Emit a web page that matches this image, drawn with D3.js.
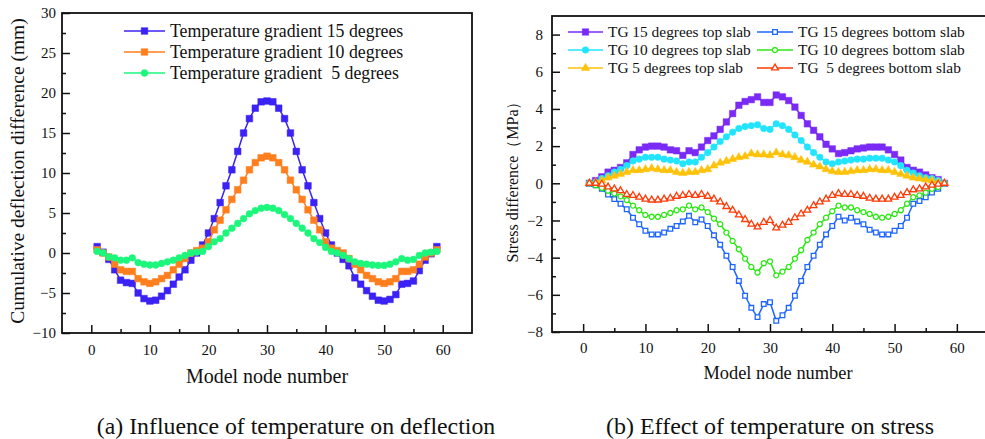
<!DOCTYPE html>
<html>
<head>
<meta charset="utf-8">
<script src="https://cdn.jsdelivr.net/npm/d3@7"></script>
<style>
  body { margin: 0; background: #fff; }
  svg text { font-family: "Liberation Serif", "Times New Roman", serif; fill: #111; white-space: pre; }
</style>
</head>
<body>
<svg id="fig" width="985" height="439"></svg>
<script>
// ---- data (a): cumulative deflection difference, nodes 1..59
const nodesA = d3.range(1, 60);
const tg15 = [0.8, 0.1, -0.8, -2.1, -3.4, -3.7, -3.8, -5.0, -5.7, -6.0, -5.9, -5.4, -4.7, -3.9, -3.0, -2.1, -0.9, 0.0, 1.0, 2.5,
  4.3, 6.3, 8.4, 10.4, 12.7, 15.0, 16.8, 18.1, 18.9, 19.0, 18.9, 18.1, 16.8, 15.0, 12.7, 10.4, 8.4, 6.3, 4.3, 2.5,
  1.0, 0.0, -0.8, -1.6, -3.1, -3.9, -4.7, -5.4, -5.9, -6.0, -5.8, -5.2, -3.9, -3.8, -3.5, -2.2, -0.9, -0.1, 0.8];
const tg10 = [0.4, 0.0, -0.5, -1.4, -2.1, -2.3, -2.3, -3.2, -3.6, -3.8, -3.6, -3.2, -2.8, -2.1, -1.4, -0.7, 0.0, 0.3, 0.6, 1.4,
  2.9, 4.1, 5.4, 6.7, 7.9, 9.1, 10.4, 11.3, 11.9, 12.1, 11.9, 11.3, 10.4, 9.1, 7.9, 6.7, 5.4, 4.1, 2.9, 1.4,
  0.6, 0.3, 0.0, -0.7, -1.4, -2.1, -2.8, -3.2, -3.6, -3.8, -3.6, -3.2, -2.3, -2.3, -2.1, -1.4, -0.5, 0.0, 0.4];
const tg5 = [0.2, 0.0, -0.5, -0.6, -0.9, -0.9, -0.6, -1.2, -1.4, -1.5, -1.5, -1.3, -1.1, -0.9, -0.6, -0.3, 0.0, 0.1, 0.2, 0.8,
  1.4, 1.8, 2.5, 3.1, 3.7, 4.3, 4.9, 5.3, 5.6, 5.7, 5.6, 5.3, 4.8, 4.3, 3.7, 3.1, 2.5, 1.8, 1.3, 0.7,
  0.2, 0.0, -0.3, -0.7, -1.1, -1.3, -1.4, -1.5, -1.55, -1.55, -1.4, -1.1, -0.7, -0.9, -0.8, -0.3, 0.0, 0.1, 0.2];
const legendA = ["Temperature gradient 15 degrees", "Temperature gradient 10 degrees", "Temperature gradient  5 degrees"];

// ---- data (b): stress difference, nodes 1..58
const nodesB = d3.range(1, 59);
const top15 = [0, 0.15, 0.35, 0.6, 0.7, 0.85, 1.1, 1.55, 1.8, 1.95, 2.0, 2.0, 1.95, 1.8, 1.75, 1.5, 1.75, 1.65, 1.95, 2.3,
  2.55, 2.9, 3.3, 3.75, 4.2, 4.4, 4.5, 4.65, 4.35, 4.35, 4.75, 4.65, 4.45, 4.1, 3.65, 3.2, 2.85, 2.5, 2.1, 1.85,
  1.6, 1.65, 1.75, 1.85, 1.9, 1.95, 1.95, 1.95, 1.8, 1.55, 1.25, 0.85, 0.7, 0.6, 0.45, 0.3, 0.2, 0];
const top10 = [0, 0.05, 0.25, 0.4, 0.6, 0.75, 0.95, 1.2, 1.3, 1.4, 1.4, 1.4, 1.3, 1.25, 1.2, 1.05, 1.15, 1.15, 1.4, 1.65,
  1.95, 2.25, 2.5, 2.75, 2.95, 3.05, 3.1, 3.15, 2.95, 2.9, 3.2, 3.1, 2.9, 2.6, 2.3, 1.95, 1.65, 1.4, 1.15, 1.05,
  1.15, 1.2, 1.25, 1.3, 1.3, 1.35, 1.35, 1.35, 1.25, 1.15, 0.95, 0.7, 0.55, 0.4, 0.3, 0.25, 0.15, 0];
const top5 = [0, 0.05, 0.15, 0.3, 0.4, 0.5, 0.6, 0.7, 0.7, 0.75, 0.8, 0.75, 0.7, 0.7, 0.6, 0.55, 0.6, 0.6, 0.7, 0.75,
  0.95, 1.1, 1.2, 1.3, 1.4, 1.45, 1.6, 1.55, 1.55, 1.5, 1.65, 1.55, 1.5, 1.4, 1.25, 1.15, 1.0, 0.9, 0.75, 0.65,
  0.6, 0.6, 0.65, 0.7, 0.7, 0.75, 0.75, 0.7, 0.7, 0.6, 0.5, 0.4, 0.3, 0.25, 0.2, 0.15, 0.05, 0];
const bot15 = [0, -0.1, -0.3, -0.6, -0.85, -1.1, -1.4, -1.85, -2.2, -2.55, -2.75, -2.75, -2.65, -2.45, -2.3, -2.05, -1.75, -2.1, -1.95, -2.3,
  -2.8, -3.3, -3.9, -4.5, -5.25, -6.05, -6.7, -7.2, -6.5, -6.4, -7.4, -7.1, -6.7, -6.05, -5.25, -4.5, -3.9, -3.3, -2.75, -2.3,
  -1.8, -2.0, -1.85, -2.05, -2.2, -2.5, -2.65, -2.75, -2.75, -2.55, -2.3, -1.85, -1.1, -0.95, -0.75, -0.5, -0.3, 0];
const bot10 = [0, -0.1, -0.25, -0.4, -0.55, -0.7, -0.9, -1.2, -1.45, -1.7, -1.8, -1.8, -1.7, -1.6, -1.45, -1.4, -1.2, -1.4, -1.3, -1.55,
  -1.9, -2.2, -2.65, -3.1, -3.55, -4.05, -4.5, -4.8, -4.3, -4.2, -4.95, -4.75, -4.5, -4.05, -3.6, -3.05, -2.65, -2.2, -1.85, -1.5,
  -1.2, -1.3, -1.3, -1.45, -1.55, -1.65, -1.8, -1.85, -1.8, -1.65, -1.45, -1.1, -0.75, -0.65, -0.5, -0.3, -0.2, 0];
const bot5 = [0, 0, -0.05, -0.2, -0.3, -0.4, -0.6, -0.65, -0.75, -0.85, -0.9, -0.9, -0.85, -0.8, -0.7, -0.65, -0.6, -0.65, -0.6, -0.7,
  -0.85, -1.0, -1.25, -1.45, -1.7, -1.95, -2.2, -2.35, -2.1, -2.0, -2.4, -2.25, -2.1, -1.85, -1.65, -1.45, -1.2, -1.0, -0.85, -0.65,
  -0.55, -0.6, -0.6, -0.65, -0.7, -0.8, -0.85, -0.85, -0.85, -0.75, -0.65, -0.5, -0.35, -0.3, -0.2, -0.1, -0.05, 0];
const legendB = ["TG 15 degrees top slab", "TG 10 degrees top slab", "TG 5 degrees top slab",
  "TG 15 degrees bottom slab", "TG 10 degrees bottom slab", "TG  5 degrees bottom slab"];

const svg = d3.select("#fig");

// draws one panel: frame, ticks, labels
function makePanel(opt) {
  const x = d3.scaleLinear().domain(opt.xDomain).range(opt.xRange);
  const y = d3.scaleLinear().domain(opt.yDomain).range(opt.yRange);
  const g = svg.append("g");

  // major / minor ticks pointing inward
  g.append("g").attr("transform", "translate(0," + opt.yRange[0] + ")")
    .call(d3.axisBottom(x).tickValues(opt.xTicks).tickSize(-8).tickPadding(opt.xPad));
  g.append("g").attr("transform", "translate(0," + opt.yRange[0] + ")")
    .call(d3.axisBottom(x).tickValues(opt.xMinor).tickSize(-4).tickFormat(""));
  g.append("g").attr("transform", "translate(" + opt.xRange[0] + ",0)")
    .call(d3.axisLeft(y).tickValues(opt.yTicks).tickSize(-8).tickPadding(opt.yPad));
  g.append("g").attr("transform", "translate(" + opt.xRange[0] + ",0)")
    .call(d3.axisLeft(y).tickValues(opt.yMinor).tickSize(-4).tickFormat(""));
  g.selectAll(".domain").remove();
  g.selectAll(".tick line").attr("stroke", "#111").attr("stroke-width", 1.5);
  g.selectAll(".tick text").attr("font-family", "Liberation Serif").attr("font-size", opt.tickFont).attr("fill", "#111");

  // frame
  g.append("rect")
    .attr("x", opt.xRange[0]).attr("y", opt.yRange[1])
    .attr("width", opt.xRange[1] - opt.xRange[0]).attr("height", opt.yRange[0] - opt.yRange[1])
    .attr("fill", "none").attr("stroke", "#111").attr("stroke-width", 1.8);

  return { x, y, g };
}

function drawSeries(p, nodes, vals, s) {
  const pts = nodes.map((n, i) => [n, vals[i]]);
  p.g.append("path").datum(pts)
    .attr("d", d3.line().x(d => p.x(d[0])).y(d => p.y(d[1])))
    .attr("fill", "none").attr("stroke", s.color).attr("stroke-width", 1.5);
  p.g.append("g").selectAll("path").data(pts).join("path")
    .attr("transform", d => "translate(" + p.x(d[0]) + "," + p.y(d[1]) + ")")
    .attr("d", d3.symbol().type(s.shape).size(s.size))
    .attr("fill", s.open ? "#fff" : s.color)
    .attr("stroke", s.color).attr("stroke-width", s.open ? 1.3 : 0.5);
}

function legendRow(x0, x1, yRow, text, s, font) {
  svg.append("line").attr("x1", x0).attr("x2", x1).attr("y1", yRow).attr("y2", yRow)
    .attr("stroke", s.color).attr("stroke-width", 1.5);
  svg.append("path").attr("transform", "translate(" + (x0 + x1) / 2 + "," + yRow + ")")
    .attr("d", d3.symbol().type(s.shape).size(s.size))
    .attr("fill", s.open ? "#fff" : s.color).attr("stroke", s.color).attr("stroke-width", s.open ? 1.3 : 0.5);
  svg.append("text").attr("x", x1 + 5).attr("y", yRow).attr("dy", "0.35em")
    .attr("font-size", font).text(text);
}

// ---------- panel (a)
const pa = makePanel({
  xDomain: [-5, 65], xRange: [62, 472], yDomain: [-10, 30], yRange: [333, 13],
  xTicks: [0, 10, 20, 30, 40, 50, 60], xMinor: [5, 15, 25, 35, 45, 55],
  yTicks: [-10, -5, 0, 5, 10, 15, 20, 25, 30], yMinor: [-7.5, -2.5, 2.5, 7.5, 12.5, 17.5, 22.5, 27.5],
  xPad: 11, yPad: 6, tickFont: 15
});
const stylesA = [
  { color: "#3b22f5", shape: d3.symbolSquare, size: 44 },
  { color: "#ff7f1e", shape: d3.symbolSquare, size: 44 },
  { color: "#1cf77c", shape: d3.symbolCircle, size: 36 }
];
[tg15, tg10, tg5].forEach((v, i) => drawSeries(pa, nodesA, v, stylesA[i]));
legendA.forEach((t, i) => legendRow(124, 165, 31 + i * 21, t, stylesA[i], 17.8));

svg.append("text").attr("transform", "translate(24,171) rotate(-90)")
  .attr("text-anchor", "middle").attr("font-size", 19.5).text("Cumulative deflection difference (mm)");
svg.append("text").attr("x", 267).attr("y", 376).attr("dy", "0.35em")
  .attr("text-anchor", "middle").attr("font-size", 20).text("Model node number");
svg.append("text").attr("x", 296).attr("y", 426).attr("dy", "0.35em")
  .attr("text-anchor", "middle").attr("font-size", 23.8).text("(a) Influence of temperature on deflection");

// ---------- panel (b)
const pb = makePanel({
  xDomain: [-5, 65], xRange: [552, 988], yDomain: [-8, 9], yRange: [332, 16],
  xTicks: [0, 10, 20, 30, 40, 50, 60], xMinor: [5, 15, 25, 35, 45, 55],
  yTicks: [-8, -6, -4, -2, 0, 2, 4, 6, 8], yMinor: [-7, -5, -3, -1, 1, 3, 5, 7],
  xPad: 10, yPad: 9, tickFont: 15
});
const stylesB = [
  { color: "#7a2af5", shape: d3.symbolSquare, size: 42 },
  { color: "#22e4ff", shape: d3.symbolCircle, size: 34 },
  { color: "#ffc20a", shape: d3.symbolTriangle, size: 30 },
  { color: "#1f66ff", shape: d3.symbolSquare, size: 22, open: true },
  { color: "#2ae812", shape: d3.symbolCircle, size: 20, open: true },
  { color: "#ff3d0a", shape: d3.symbolTriangle, size: 20, open: true }
];
const seriesB = [top15, top10, top5, bot15, bot10, bot5];
[0, 3, 1, 4, 2, 5].forEach(i => drawSeries(pb, nodesB, seriesB[i], stylesB[i]));
legendB.forEach((t, i) => {
  const col = Math.floor(i / 3), row = i % 3;
  const x0 = col ? 757 : 568, x1 = col ? 793 : 603;
  legendRow(x0, x1, 32 + row * 18, t, stylesB[i], 15.4);
});

svg.append("text").attr("transform", "translate(518,178) rotate(-90)")
  .attr("text-anchor", "middle").attr("font-size", 16).text("Stress difference（MPa）");
svg.append("text").attr("x", 778).attr("y", 373).attr("dy", "0.35em")
  .attr("text-anchor", "middle").attr("font-size", 18.4).text("Model node number");
svg.append("text").attr("x", 770).attr("y", 426).attr("dy", "0.35em")
  .attr("text-anchor", "middle").attr("font-size", 24).text("(b) Effect of temperature on stress");
</script>
</body>
</html>
